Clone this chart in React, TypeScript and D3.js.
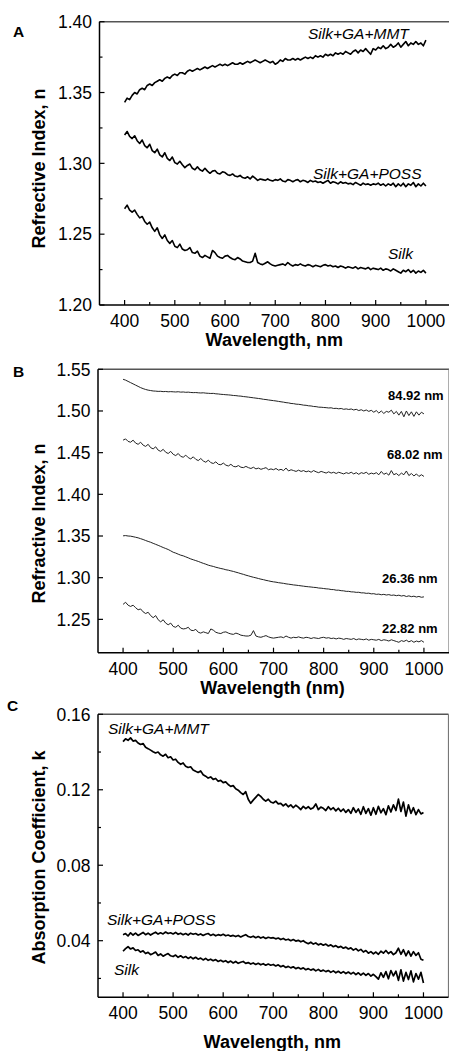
import React from 'react';
import * as d3 from 'd3';

// sampling grid (nm)
const wavelengths = [
  400, 405, 410, 415, 420, 425, 430, 435, 440, 445,
  450, 455, 460, 465, 470, 475, 480, 485, 490, 495,
  500, 505, 510, 515, 520, 525, 530, 535, 540, 545,
  550, 555, 560, 565, 570, 575, 580, 585, 590, 595,
  600, 605, 610, 615, 620, 625, 630, 635, 640, 645,
  650, 655, 660, 665, 670, 675, 680, 685, 690, 695,
  700, 705, 710, 715, 720, 725, 730, 735, 740, 745,
  750, 755, 760, 765, 770, 775, 780, 785, 790, 795,
  800, 805, 810, 815, 820, 825, 830, 835, 840, 845,
  850, 855, 860, 865, 870, 875, 880, 885, 890, 895,
  900, 905, 910, 915, 920, 925, 930, 935, 940, 945,
  950, 955, 960, 965, 970, 975, 980, 985, 990, 995,
  1000,
];

// Panel A: refractive index n
const nMMT = [
  1.343, 1.346, 1.345, 1.348, 1.350, 1.349, 1.352, 1.353, 1.352, 1.355,
  1.356, 1.355, 1.357, 1.358, 1.359, 1.358, 1.360, 1.361, 1.360, 1.362,
  1.363, 1.362, 1.364, 1.364, 1.363, 1.365, 1.366, 1.365, 1.366, 1.367,
  1.366, 1.367, 1.368, 1.367, 1.368, 1.369, 1.368, 1.369, 1.370, 1.369,
  1.370, 1.369, 1.370, 1.371, 1.370, 1.370, 1.371, 1.370, 1.371, 1.372,
  1.371, 1.372, 1.373, 1.372, 1.371, 1.372, 1.373, 1.372, 1.371, 1.372,
  1.370, 1.371, 1.373, 1.372, 1.374, 1.373, 1.373, 1.374, 1.373, 1.374,
  1.373, 1.374, 1.375, 1.374, 1.375, 1.374, 1.376, 1.375, 1.376, 1.375,
  1.377, 1.376, 1.377, 1.376, 1.378, 1.377, 1.378, 1.377, 1.379, 1.378,
  1.377, 1.379, 1.380, 1.378, 1.380, 1.379, 1.381, 1.379, 1.377, 1.381,
  1.380, 1.382, 1.381, 1.383, 1.381, 1.382, 1.384, 1.382, 1.383, 1.385,
  1.382, 1.384, 1.386, 1.383, 1.385, 1.384, 1.386, 1.384, 1.385, 1.383,
  1.387,
];
const nPOSS = [
  1.3200, 1.3225, 1.3190, 1.3175, 1.3195, 1.3160, 1.3140, 1.3165, 1.3125, 1.3110,
  1.3135, 1.3090, 1.3075, 1.3100, 1.3060, 1.3045, 1.3075, 1.3035, 1.3020, 1.3045,
  1.3005, 1.2995, 1.3015, 1.2990, 1.2970, 1.2985, 1.2995, 1.2965, 1.2955, 1.2975,
  1.2955, 1.2945, 1.2965, 1.2945, 1.2930, 1.2945, 1.2950, 1.2930, 1.2925, 1.2940,
  1.2935, 1.2920, 1.2915, 1.2925, 1.2910, 1.2905, 1.2915, 1.2900, 1.2895, 1.2905,
  1.2890, 1.2910, 1.2895, 1.2880, 1.2890, 1.2885, 1.2880, 1.2890, 1.2880, 1.2875,
  1.2885, 1.2880, 1.2890, 1.2875, 1.2870, 1.2885, 1.2880, 1.2870, 1.2880, 1.2885,
  1.2870, 1.2880, 1.2875, 1.2865, 1.2880, 1.2870, 1.2875, 1.2865, 1.2870, 1.2860,
  1.2870, 1.2880, 1.2860, 1.2870, 1.2865, 1.2855, 1.2870, 1.2860, 1.2865, 1.2855,
  1.2860, 1.2850, 1.2865, 1.2855, 1.2845, 1.2860, 1.2850, 1.2855, 1.2845, 1.2855,
  1.2850, 1.2860, 1.2845, 1.2855, 1.2840, 1.2855, 1.2845, 1.2860, 1.2835, 1.2855,
  1.2840, 1.2860, 1.2835, 1.2855, 1.2845, 1.2865, 1.2835, 1.2855, 1.2840, 1.2860,
  1.2840,
];
const nSilk = [
  1.2680, 1.2705, 1.2670, 1.2655, 1.2670, 1.2640, 1.2615, 1.2625, 1.2590, 1.2570,
  1.2585, 1.2545, 1.2520, 1.2545, 1.2495, 1.2470, 1.2495, 1.2455, 1.2435, 1.2455,
  1.2415, 1.2405, 1.2430, 1.2395, 1.2385, 1.2390, 1.2405, 1.2370, 1.2365, 1.2380,
  1.2345, 1.2335, 1.2350, 1.2340, 1.2330, 1.2385, 1.2370, 1.2345, 1.2335, 1.2330,
  1.2345, 1.2350, 1.2335, 1.2325, 1.2320, 1.2335, 1.2325, 1.2310, 1.2305, 1.2300,
  1.2300, 1.2310, 1.2365, 1.2300, 1.2290, 1.2285, 1.2295, 1.2305, 1.2290, 1.2280,
  1.2275, 1.2280, 1.2285, 1.2290, 1.2280, 1.2300, 1.2285, 1.2275, 1.2285, 1.2280,
  1.2290, 1.2280, 1.2275, 1.2285, 1.2280, 1.2270, 1.2280, 1.2275, 1.2270, 1.2280,
  1.2285, 1.2275, 1.2280, 1.2270, 1.2275, 1.2265, 1.2275, 1.2270, 1.2260, 1.2270,
  1.2265, 1.2260, 1.2270, 1.2255, 1.2265, 1.2260, 1.2255, 1.2265, 1.2250, 1.2260,
  1.2255, 1.2250, 1.2260, 1.2245, 1.2255, 1.2250, 1.2240, 1.2255, 1.2245, 1.2235,
  1.2225, 1.2245, 1.2235, 1.2250, 1.2230, 1.2245, 1.2225, 1.2240, 1.2230, 1.2245,
  1.2225,
];

// Panel B: refractive index n vs. film thickness
const n8492 = [
  1.5380, 1.5370, 1.5355, 1.5340, 1.5325, 1.5310, 1.5295, 1.5280, 1.5268, 1.5258,
  1.5250, 1.5245, 1.5240, 1.5238, 1.5235, 1.5236, 1.5232, 1.5234, 1.5230, 1.5232,
  1.5230, 1.5228, 1.5231, 1.5226, 1.5228, 1.5224, 1.5226, 1.5222, 1.5220, 1.5221,
  1.5218, 1.5216, 1.5218, 1.5214, 1.5212, 1.5210, 1.5211, 1.5206, 1.5204, 1.5200,
  1.5198, 1.5195, 1.5193, 1.5190, 1.5186, 1.5184, 1.5180, 1.5178, 1.5173, 1.5170,
  1.5166, 1.5162, 1.5158, 1.5154, 1.5150, 1.5146, 1.5140, 1.5137, 1.5132, 1.5128,
  1.5124, 1.5120, 1.5115, 1.5110, 1.5106, 1.5100, 1.5097, 1.5090, 1.5088, 1.5082,
  1.5080, 1.5076, 1.5070, 1.5068, 1.5062, 1.5060, 1.5054, 1.5052, 1.5046, 1.5045,
  1.5042, 1.5040, 1.5036, 1.5038, 1.5030, 1.5032, 1.5026, 1.5030, 1.5020, 1.5025,
  1.5018, 1.5024, 1.5012, 1.5020, 1.5005, 1.5015, 1.5000, 1.5012, 1.4995, 1.5008,
  1.4985, 1.5005, 1.4975, 1.5000, 1.4970, 1.4995, 1.4985, 1.5010, 1.4965, 1.4995,
  1.4950, 1.4995, 1.4930, 1.5000, 1.4945, 1.4990, 1.4935, 1.4990, 1.4950, 1.4985,
  1.4965,
];
const n6802 = [
  1.4650, 1.4665, 1.4635, 1.4625, 1.4650, 1.4615, 1.4600, 1.4625, 1.4590, 1.4575,
  1.4600, 1.4560, 1.4545, 1.4570, 1.4530, 1.4515, 1.4540, 1.4505, 1.4490, 1.4515,
  1.4480, 1.4465, 1.4490, 1.4455, 1.4445, 1.4470, 1.4440, 1.4425, 1.4450, 1.4420,
  1.4405, 1.4430, 1.4400, 1.4385, 1.4410, 1.4380, 1.4370, 1.4390, 1.4360, 1.4355,
  1.4375, 1.4350, 1.4340, 1.4360, 1.4335, 1.4330, 1.4345, 1.4325, 1.4320, 1.4335,
  1.4320, 1.4310, 1.4325, 1.4305, 1.4315, 1.4300, 1.4310, 1.4320, 1.4295, 1.4305,
  1.4295, 1.4310, 1.4290, 1.4300, 1.4285, 1.4315, 1.4280, 1.4295, 1.4285, 1.4275,
  1.4290, 1.4275, 1.4285, 1.4270, 1.4280, 1.4265, 1.4285, 1.4270, 1.4260, 1.4275,
  1.4265, 1.4255, 1.4270, 1.4255, 1.4265, 1.4250, 1.4265, 1.4255, 1.4245, 1.4260,
  1.4250, 1.4265, 1.4245, 1.4260, 1.4240, 1.4260, 1.4250, 1.4265, 1.4240, 1.4255,
  1.4245, 1.4260, 1.4235, 1.4275, 1.4240, 1.4255, 1.4230, 1.4285, 1.4235, 1.4250,
  1.4225, 1.4255, 1.4235, 1.4280, 1.4225, 1.4250, 1.4220, 1.4245, 1.4215, 1.4235,
  1.4215,
];
const n2636 = [
  1.3502, 1.3505, 1.3500, 1.3498, 1.3492, 1.3485, 1.3478, 1.3468, 1.3458, 1.3446,
  1.3435, 1.3425, 1.3412, 1.3400, 1.3388, 1.3375, 1.3362, 1.3350, 1.3338, 1.3322,
  1.3305, 1.3295, 1.3282, 1.3270, 1.3262, 1.3250, 1.3238, 1.3225, 1.3215, 1.3205,
  1.3195, 1.3183, 1.3172, 1.3162, 1.3150, 1.3142, 1.3135, 1.3125, 1.3118, 1.3110,
  1.3104, 1.3095, 1.3090, 1.3082, 1.3075, 1.3066, 1.3058, 1.3048, 1.3040, 1.3030,
  1.3022, 1.3013, 1.3005, 1.2998, 1.2990, 1.2982, 1.2976, 1.2968, 1.2962, 1.2955,
  1.2950, 1.2946, 1.2940, 1.2936, 1.2932, 1.2926, 1.2922, 1.2918, 1.2913, 1.2910,
  1.2906, 1.2902, 1.2898, 1.2894, 1.2891, 1.2888, 1.2884, 1.2882, 1.2876, 1.2874,
  1.2870, 1.2866, 1.2864, 1.2858, 1.2857, 1.2850, 1.2850, 1.2844, 1.2842, 1.2836,
  1.2836, 1.2830, 1.2829, 1.2824, 1.2825, 1.2818, 1.2818, 1.2812, 1.2814, 1.2806,
  1.2808, 1.2800, 1.2803, 1.2795, 1.2800, 1.2792, 1.2797, 1.2788, 1.2792, 1.2784,
  1.2790, 1.2780, 1.2786, 1.2774, 1.2782, 1.2772, 1.2778, 1.2768, 1.2775, 1.2765,
  1.2770,
];
const n2282 = nSilk; // same silk film measurement

// Panel C: absorption coefficient k
const kMMT = [
  0.1455, 0.1470, 0.1462, 0.1475, 0.1458, 0.1462, 0.1448, 0.1440, 0.1445, 0.1425,
  0.1418, 0.1410, 0.1402, 0.1395, 0.1400, 0.1385, 0.1378, 0.1388, 0.1370, 0.1375,
  0.1358, 0.1362, 0.1345, 0.1335, 0.1342, 0.1325, 0.1318, 0.1322, 0.1305, 0.1298,
  0.1292, 0.1300, 0.1280, 0.1272, 0.1262, 0.1268, 0.1255, 0.1260, 0.1245, 0.1250,
  0.1238, 0.1242, 0.1228, 0.1218, 0.1222, 0.1205, 0.1198, 0.1185, 0.1175, 0.1190,
  0.1150, 0.1128, 0.1145, 0.1160, 0.1175, 0.1165, 0.1150, 0.1140, 0.1150, 0.1135,
  0.1130, 0.1140, 0.1125, 0.1128, 0.1115, 0.1125, 0.1110, 0.1120, 0.1105, 0.1118,
  0.1108, 0.1095, 0.1112, 0.1100, 0.1110, 0.1098, 0.1105, 0.1125, 0.1095, 0.1108,
  0.1102, 0.1090, 0.1110, 0.1095, 0.1105, 0.1088, 0.1102, 0.1085, 0.1098, 0.1080,
  0.1095, 0.1075, 0.1105, 0.1080, 0.1098, 0.1070, 0.1110, 0.1075, 0.1100, 0.1065,
  0.1105, 0.1070, 0.1112, 0.1078, 0.1100, 0.1068, 0.1115, 0.1082, 0.1120, 0.1090,
  0.1150, 0.1085, 0.1135, 0.1060, 0.1120, 0.1075, 0.1105, 0.1068, 0.1095, 0.1072,
  0.1080,
];
const kPOSS = [
  0.0432, 0.0438, 0.0425, 0.0442, 0.0430, 0.0440, 0.0428, 0.0436, 0.0444, 0.0432,
  0.0440, 0.0430, 0.0438, 0.0445, 0.0435, 0.0442, 0.0436, 0.0446, 0.0438, 0.0442,
  0.0436, 0.0444, 0.0434, 0.0440, 0.0432, 0.0438, 0.0430, 0.0440, 0.0434, 0.0438,
  0.0430, 0.0436, 0.0428, 0.0434, 0.0438, 0.0428, 0.0434, 0.0426, 0.0432, 0.0428,
  0.0434, 0.0426, 0.0430, 0.0424, 0.0428, 0.0422, 0.0428, 0.0420, 0.0426, 0.0432,
  0.0422, 0.0418, 0.0424, 0.0416, 0.0422, 0.0414, 0.0420, 0.0412, 0.0418, 0.0414,
  0.0416, 0.0410, 0.0414, 0.0406, 0.0412, 0.0404, 0.0408, 0.0400, 0.0406, 0.0398,
  0.0402, 0.0394, 0.0400, 0.0390, 0.0384, 0.0392, 0.0382, 0.0388, 0.0378, 0.0384,
  0.0376, 0.0382, 0.0372, 0.0378, 0.0368, 0.0374, 0.0364, 0.0370, 0.0360, 0.0366,
  0.0356, 0.0362, 0.0350, 0.0358, 0.0346, 0.0354, 0.0340, 0.0348, 0.0334, 0.0342,
  0.0330, 0.0340, 0.0328, 0.0344, 0.0334, 0.0348, 0.0332, 0.0342, 0.0326, 0.0336,
  0.0360, 0.0328, 0.0352, 0.0320, 0.0346, 0.0318, 0.0342, 0.0322, 0.0336, 0.0302,
  0.0296,
];
const kSilk = [
  0.0344, 0.0358, 0.0368, 0.0356, 0.0362, 0.0348, 0.0352, 0.0340, 0.0346, 0.0332,
  0.0338, 0.0326, 0.0332, 0.0340, 0.0322, 0.0330, 0.0318, 0.0326, 0.0332, 0.0320,
  0.0316, 0.0324, 0.0312, 0.0320, 0.0310, 0.0316, 0.0306, 0.0314, 0.0304, 0.0312,
  0.0302, 0.0308, 0.0298, 0.0306, 0.0296, 0.0302, 0.0294, 0.0300, 0.0290, 0.0296,
  0.0288, 0.0294, 0.0284, 0.0292, 0.0282, 0.0290, 0.0280, 0.0286, 0.0290, 0.0280,
  0.0284, 0.0276, 0.0282, 0.0274, 0.0280, 0.0272, 0.0278, 0.0270, 0.0276, 0.0270,
  0.0274, 0.0266, 0.0272, 0.0262, 0.0268, 0.0258, 0.0264, 0.0256, 0.0262, 0.0252,
  0.0258, 0.0250, 0.0256, 0.0246, 0.0252, 0.0244, 0.0250, 0.0240, 0.0248, 0.0238,
  0.0244, 0.0236, 0.0242, 0.0232, 0.0240, 0.0230, 0.0238, 0.0228, 0.0236, 0.0226,
  0.0234, 0.0224, 0.0232, 0.0220, 0.0230, 0.0218, 0.0228, 0.0216, 0.0226, 0.0212,
  0.0222, 0.0210, 0.0196, 0.0230, 0.0206, 0.0236, 0.0198, 0.0242, 0.0214, 0.0238,
  0.0190, 0.0246, 0.0186, 0.0232, 0.0194, 0.0240, 0.0182, 0.0226, 0.0196, 0.0232,
  0.0176,
];

// ticks
const xTicks = [400, 500, 600, 700, 800, 900, 1000];
const xMinor = [450, 550, 650, 750, 850, 950];
const yTicksA = [1.2, 1.25, 1.3, 1.35, 1.4];
const yMinorA = [1.225, 1.275, 1.325, 1.375];
const yTicksB = [1.25, 1.3, 1.35, 1.4, 1.45, 1.5, 1.55];
const yTicksC = [0.04, 0.08, 0.12, 0.16];
const yMinorC = [0.02, 0.06, 0.1, 0.14];

const FONT = "'Liberation Sans', Arial, Helvetica, sans-serif";

type Label = { text: string; x: number; y: number; style: 'italic' | 'bold' };
type PanelCfg = {
  letter: string;
  letterX: number;
  letterY: number;
  left: number;
  right: number;
  top: number;
  bottom: number;
  yDomain: [number, number];
  yTicks: number[];
  yMinor: number[];
  yFmt: string;
  series: number[][];
  strokeW: number;
  stroke: string;
  yTitle: string;
  yTitleCy: number;
  xTitle: string;
  xTitleY: number;
  labels: Label[];
};

function Panel({ cfg }: { cfg: PanelCfg }) {
  const x = d3.scaleLinear().domain([350, 1050]).range([cfg.left, cfg.right]);
  const y = d3.scaleLinear().domain(cfg.yDomain).range([cfg.bottom, cfg.top]);
  const line = d3
    .line<number>()
    .x((_, i) => x(wavelengths[i]))
    .y((d) => y(d));
  const fmt = d3.format(cfg.yFmt);
  const cx = (cfg.left + cfg.right) / 2;
  return (
    <g>
      <text x={cfg.letterX} y={cfg.letterY} fontFamily={FONT} fontWeight="bold" fontSize={15.5}>
        {cfg.letter}
      </text>
      {/* frame top / right */}
      <line x1={cfg.left} x2={cfg.right} y1={cfg.top} y2={cfg.top} stroke="#555" strokeWidth={1.5} />
      <line x1={cfg.right} x2={cfg.right} y1={cfg.top} y2={cfg.bottom} stroke="#777" strokeWidth={1.2} />
      {/* series */}
      {cfg.series.map((s, i) => (
        <path key={i} d={line(s) || ''} fill="none" stroke={cfg.stroke} strokeWidth={cfg.strokeW} strokeLinejoin="round" />
      ))}
      {/* axes */}
      <line x1={cfg.left} x2={cfg.left} y1={cfg.top} y2={cfg.bottom} stroke="#000" strokeWidth={1.5} />
      <line x1={cfg.left} x2={cfg.right} y1={cfg.bottom} y2={cfg.bottom} stroke="#000" strokeWidth={1.5} />
      {xTicks.map((t) => (
        <g key={'x' + t}>
          <line x1={x(t)} x2={x(t)} y1={cfg.bottom} y2={cfg.bottom - 5} stroke="#000" strokeWidth={1.2} />
          <text x={x(t)} y={cfg.bottom + 22} textAnchor="middle" fontFamily={FONT} fontSize={17.5}>
            {t}
          </text>
        </g>
      ))}
      {xMinor.map((t) => (
        <line key={'xm' + t} x1={x(t)} x2={x(t)} y1={cfg.bottom} y2={cfg.bottom - 3} stroke="#000" strokeWidth={1.2} />
      ))}
      {cfg.yTicks.map((t) => (
        <g key={'y' + t}>
          <line x1={cfg.left} x2={cfg.left + 5} y1={y(t)} y2={y(t)} stroke="#000" strokeWidth={1.2} />
          <text x={cfg.left - 7.5} y={y(t) + 6.3} textAnchor="end" fontFamily={FONT} fontSize={17.5}>
            {fmt(t)}
          </text>
        </g>
      ))}
      {cfg.yMinor.map((t) => (
        <line key={'ym' + t} x1={cfg.left} x2={cfg.left + 3} y1={y(t)} y2={y(t)} stroke="#000" strokeWidth={1.2} />
      ))}
      <text
        transform={`translate(45,${cfg.yTitleCy}) rotate(-90)`}
        textAnchor="middle"
        fontFamily={FONT}
        fontWeight="bold"
        fontSize={18}
      >
        {cfg.yTitle}
      </text>
      <text x={cx - 1} y={cfg.xTitleY} textAnchor="middle" fontFamily={FONT} fontWeight="bold" fontSize={18}>
        {cfg.xTitle}
      </text>
      {cfg.labels.map((l) => (
        <text
          key={l.text}
          x={l.x}
          y={l.y}
          fontFamily={FONT}
          fontStyle={l.style === 'italic' ? 'italic' : 'normal'}
          fontWeight={l.style === 'bold' ? 'bold' : 'normal'}
          fontSize={l.style === 'bold' ? 13 : 15.5}
        >
          {l.text}
        </text>
      ))}
    </g>
  );
}

const panels: PanelCfg[] = [
  {
    letter: 'A', letterX: 13, letterY: 37,
    left: 99.5, right: 451, top: 21.7, bottom: 305,
    yDomain: [1.2, 1.4], yTicks: yTicksA, yMinor: yMinorA, yFmt: '.2f',
    series: [nMMT, nPOSS, nSilk], strokeW: 1.6, stroke: '#000',
    yTitle: 'Refrective Index, n', yTitleCy: 168.5,
    xTitle: 'Wavelength, nm', xTitleY: 346,
    labels: [
      { text: 'Silk+GA+MMT', x: 308, y: 39, style: 'italic' },
      { text: 'Silk+GA+POSS', x: 313, y: 179, style: 'italic' },
      { text: 'Silk', x: 388, y: 259, style: 'italic' },
    ],
  },
  {
    letter: 'B', letterX: 13, letterY: 377,
    left: 98, right: 449, top: 369.3, bottom: 652.7,
    yDomain: [1.21, 1.55], yTicks: yTicksB, yMinor: [], yFmt: '.2f',
    series: [n8492, n6802, n2636, n2282], strokeW: 1, stroke: '#222',
    yTitle: 'Refractive Index, n', yTitleCy: 523.5,
    xTitle: 'Wavelength (nm)', xTitleY: 694,
    labels: [
      { text: '84.92 nm', x: 388, y: 399.5, style: 'bold' },
      { text: '68.02 nm', x: 387, y: 458.5, style: 'bold' },
      { text: '26.36 nm', x: 382, y: 583.3, style: 'bold' },
      { text: '22.82 nm', x: 382, y: 632.7, style: 'bold' },
    ],
  },
  {
    letter: 'C', letterX: 7, letterY: 710.7,
    left: 98, right: 448.5, top: 714.3, bottom: 997.3,
    yDomain: [0.01, 0.16], yTicks: yTicksC, yMinor: yMinorC, yFmt: '.2f',
    series: [kMMT, kPOSS, kSilk], strokeW: 1.7, stroke: '#000',
    yTitle: 'Absorption Coefficient, k', yTitleCy: 857.5,
    xTitle: 'Wavelength, nm', xTitleY: 1048,
    labels: [
      { text: 'Silk+GA+MMT', x: 108, y: 734, style: 'italic' },
      { text: 'Silk+GA+POSS', x: 107, y: 925, style: 'italic' },
      { text: 'Silk', x: 114, y: 975, style: 'italic' },
    ],
  },
];

export default function App() {
  return (
    <svg
      width={449}
      height={1051}
      viewBox="0 0 449 1051"
      style={{ position: 'absolute', left: 0, top: 0, background: '#fff' }}
    >
      <rect width={449} height={1051} fill="#fff" />
      {panels.map((p) => (
        <Panel key={p.letter} cfg={p} />
      ))}
    </svg>
  );
}
